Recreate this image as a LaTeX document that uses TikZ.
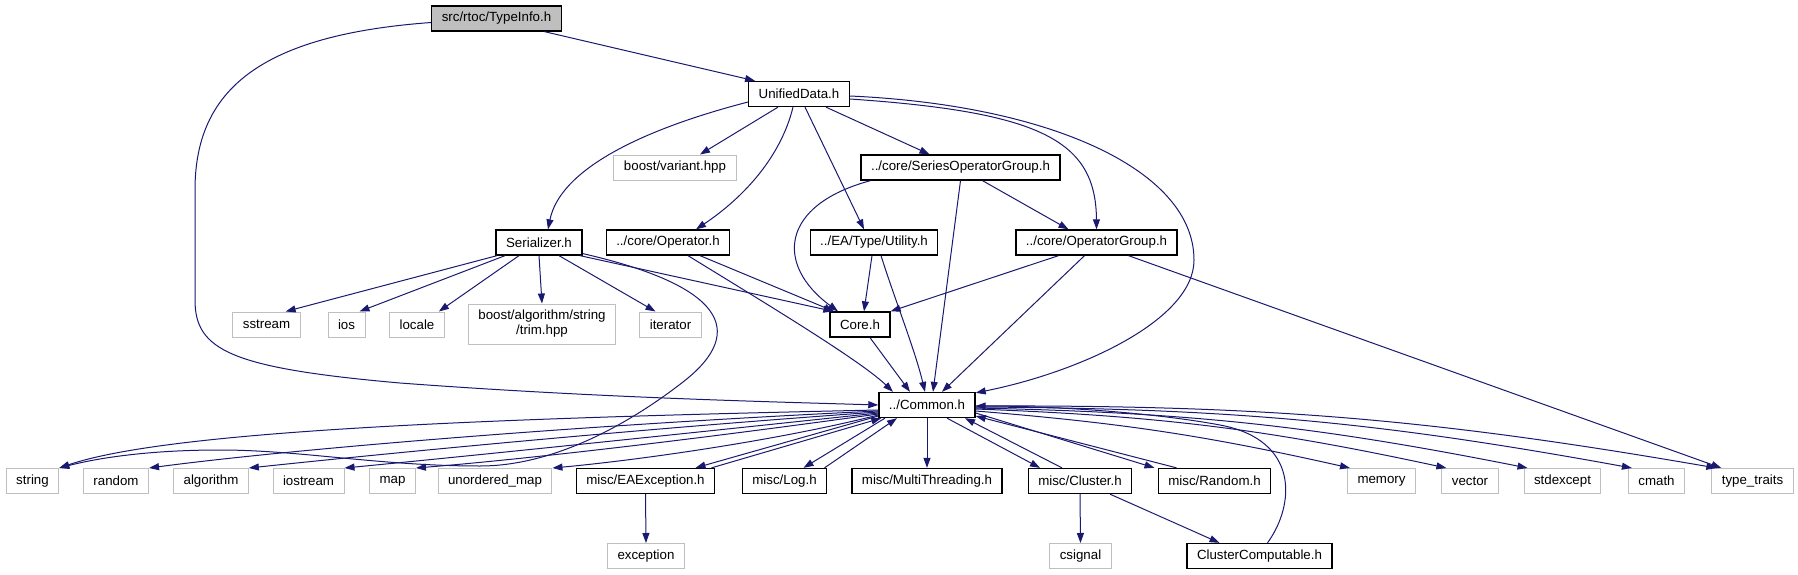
\documentclass[tikz,border=0pt]{standalone}
\usepackage{fontspec}
\setmainfont{Liberation Sans}
\usetikzlibrary{arrows.meta}
\definecolor{edgeblue}{RGB}{25,25,112}
\definecolor{sysgray}{RGB}{191,191,191}

\tikzset{
  docfile/.style={draw=black, line width=1.3pt, inner xsep=10pt, inner ysep=0pt,
    minimum height=25pt, font=\fontsize{13.3}{15}\selectfont},
  sysfile/.style={docfile, draw=sysgray, line width=1pt},
  mainfile/.style={docfile, fill=sysgray},
  incl/.style={draw=edgeblue, line width=1pt, -{Triangle[length=10pt,width=7pt]}},
}

\begin{document}
\begin{tikzpicture}[x=1pt,y=-1pt]
\useasboundingbox (0,0) rectangle (1798,575);

\node[mainfile] (typeinfo) at (496.5,18.5) {src/rtoc/TypeInfo.h};
\node[docfile] (unified) at (799,94) {UnifiedData.h};

\node[sysfile] (variant) at (675,167.5) {boost/variant.hpp};
\node[docfile] (seriesop) at (960.5,167.5) {../core/SeriesOperatorGroup.h};

\node[docfile] (serializer) at (539,242.5) {Serializer.h};
\node[docfile] (operator) at (668,242.5) {../core/Operator.h};
\node[docfile] (utility) at (874,242.5) {../EA/Type/Utility.h};
\node[docfile] (opgroup) at (1096.5,242.5) {../core/OperatorGroup.h};

\node[sysfile] (sstream) at (266.5,324.5) {sstream};
\node[sysfile] (ios) at (346.5,324.5) {ios};
\node[sysfile] (locale) at (417,324.5) {locale};
\node[sysfile, align=center, minimum height=40pt] (trim) at (542,324) {boost/algorithm/string\\/trim.hpp};
\node[sysfile] (iterator) at (670.5,324.5) {iterator};
\node[docfile] (core) at (860,324.5) {Core.h};

\node[docfile] (common) at (927,405) {../Common.h};

\node[sysfile] (string) at (32.5,481) {string};
\node[sysfile] (random) at (116,481) {random};
\node[sysfile] (algorithm) at (211,481) {algorithm};
\node[sysfile] (iostream) at (308.5,481) {iostream};
\node[sysfile] (map) at (392.5,481) {map};
\node[sysfile] (unordered) at (495,481) {unordered\_map};
\node[docfile] (eaexc) at (645.5,481) {misc/EAException.h};
\node[docfile] (log) at (784.5,481) {misc/Log.h};
\node[docfile] (multithr) at (927,481) {misc/MultiThreading.h};
\node[docfile] (cluster) at (1080,481) {misc/Cluster.h};
\node[docfile] (randomh) at (1214.5,481) {misc/Random.h};
\node[sysfile] (memory) at (1381.5,481) {memory};
\node[sysfile] (vector) at (1470,481) {vector};
\node[sysfile] (stdexcept) at (1562.5,481) {stdexcept};
\node[sysfile] (cmath) at (1656.5,481) {cmath};
\node[sysfile] (typetraits) at (1752.5,481) {type\_traits};

\node[sysfile] (exception) at (646,556) {exception};
\node[sysfile] (csignal) at (1080.5,556) {csignal};
\node[docfile] (clustercomp) at (1259.5,556) {ClusterComputable.h};

\draw[incl] ([xshift=48pt]typeinfo.south) -- ([xshift=7pt]unified.north west);
\draw[incl] ([yshift=-4pt]typeinfo.west) .. controls (260,35) and (195,90) .. (195,190) -- (195,300)
  .. controls (195,350) and (230,368) .. (400,383) .. controls (600,398) and (780,402) .. (common.west);

\draw[incl] ([yshift=-8pt]unified.west) .. controls (640,130) and (560,170) .. ([xshift=9pt]serializer.north);
\draw[incl] ([xshift=-21pt]unified.south) -- ([xshift=25pt]variant.north);
\draw[incl] ([xshift=-6pt]unified.south) .. controls (780,160) and (740,200) .. ([xshift=28pt]operator.north);
\draw[incl] ([xshift=6pt]unified.south) -- ([xshift=-10pt]utility.north);
\draw[incl] ([xshift=27pt]unified.south) -- ([xshift=-31pt]seriesop.north);
\draw[incl] ([yshift=-5pt]unified.east) .. controls (1040,112) and (1096,140) .. (opgroup.north);
\draw[incl] ([yshift=-2pt]unified.east) .. controls (1050,105) and (1194,170) .. (1194,260)
  .. controls (1194,320) and (1080,372) .. ([yshift=-1pt]common.north east);

\draw[incl] ([xshift=-90pt]seriesop.south) .. controls (780,205) and (775,265) .. ([xshift=-22pt]core.north);
\draw[incl] (seriesop.south) -- ([xshift=6pt]common.north);
\draw[incl] ([xshift=22pt]seriesop.south) -- ([xshift=-28pt]opgroup.north);

\draw[incl] ([xshift=32pt]operator.south) -- ([xshift=-26pt]core.north);
\draw[incl] ([xshift=20pt]operator.south) .. controls (760,300) and (860,360) .. ([xshift=-34pt]common.north);

\draw[incl] ([xshift=-2pt]utility.south) -- ([xshift=4pt]core.north);
\draw[incl] ([xshift=7pt]utility.south) .. controls (895,300) and (915,350) .. ([xshift=-2pt]common.north);

\draw[incl] ([xshift=10pt]core.south) -- ([xshift=-17pt]common.north);

\draw[incl] ([xshift=-38pt]opgroup.south) -- (core.north east);
\draw[incl] ([xshift=-12pt]opgroup.south) -- ([xshift=15pt]common.north);
\draw[incl] ([xshift=32pt]opgroup.south) -- ([xshift=10pt]typetraits.north west);

\draw[incl] ([xshift=-42pt]serializer.south) -- ([xshift=-15pt]sstream.north east);
\draw[incl] ([xshift=-34pt]serializer.south) -- ([xshift=-6pt]ios.north east);
\draw[incl] ([xshift=-20pt]serializer.south) -- ([xshift=-6pt]locale.north east);
\draw[incl] (serializer.south) -- (trim.north);
\draw[incl] ([xshift=20pt]serializer.south) -- ([xshift=-15pt]iterator.north);
\draw[incl] ([xshift=41pt]serializer.south) -- ([xshift=4pt]core.north west);
\draw[incl] ([xshift=44pt,yshift=2pt]serializer.south) .. controls (720,285) and (750,330) .. (683,382)
  .. controls (638,417) and (560,466) .. (480,466) .. controls (380,466) and (300,450) .. (220,450)
  .. controls (140,450) and (90,460) .. (string.north east);

\draw[incl] ([yshift=-5pt]common.west) .. controls (500,418) and (170,430) .. (string.north east);
\draw[incl] ([yshift=-6pt]common.west) .. controls (600,424) and (300,448) .. (random.north east);
\draw[incl] ([yshift=-7pt]common.west) .. controls (650,428) and (400,452) .. (algorithm.north east);
\draw[incl] ([yshift=-8pt]common.west) .. controls (700,432) and (480,455) .. (iostream.north east);
\draw[incl] ([yshift=-9pt]common.west) .. controls (720,436) and (540,458) .. (map.north east);
\draw[incl] ([yshift=-10pt]common.west) .. controls (780,440) and (640,460) .. (unordered.north east);
\draw[incl] ([yshift=-11pt]common.west) -- ([xshift=50pt]eaexc.north);
\draw[incl] ([xshift=66pt]eaexc.north) -- ([xshift=3pt]common.south west);
\draw[incl] ([xshift=-42pt]common.south) -- ([xshift=19pt]log.north);
\draw[incl] ([xshift=40pt]log.north) -- ([xshift=-30pt]common.south);
\draw[incl] (common.south) -- (multithr.north);
\draw[incl] ([xshift=20pt]common.south) -- ([xshift=-40pt]cluster.north);
\draw[incl] ([xshift=-18pt]cluster.north) -- ([xshift=38pt]common.south);
\draw[incl] ([yshift=-8pt]common.east) -- ([xshift=-60pt]randomh.north);
\draw[incl] ([xshift=-38pt]randomh.north) -- ([yshift=-11pt]common.east);
\draw[incl] ([xshift=8pt]clustercomp.north) .. controls (1295,505) and (1300,440) .. (1220,425)
  .. controls (1150,412) and (1050,406) .. ([yshift=-1pt]common.east);
\draw[incl] ([yshift=-6pt]common.east) to[bend left=4] ([xshift=3pt]memory.north west);
\draw[incl] ([yshift=-4pt]common.east) to[bend left=5] ([xshift=5pt]vector.north west);
\draw[incl] ([yshift=-3pt]common.east) to[bend left=5] ([xshift=4pt]stdexcept.north west);
\draw[incl] ([yshift=-2pt]common.east) to[bend left=5] ([xshift=4pt]cmath.north west);
\draw[incl] ([yshift=-1pt]common.east) to[bend left=5] ([xshift=5pt]typetraits.north west);

\draw[incl] (eaexc.south) -- (exception.north);
\draw[incl] (cluster.south) -- (csignal.north);
\draw[incl] ([xshift=30pt]cluster.south) -- ([xshift=-40pt]clustercomp.north);
\end{tikzpicture}
\end{document}
